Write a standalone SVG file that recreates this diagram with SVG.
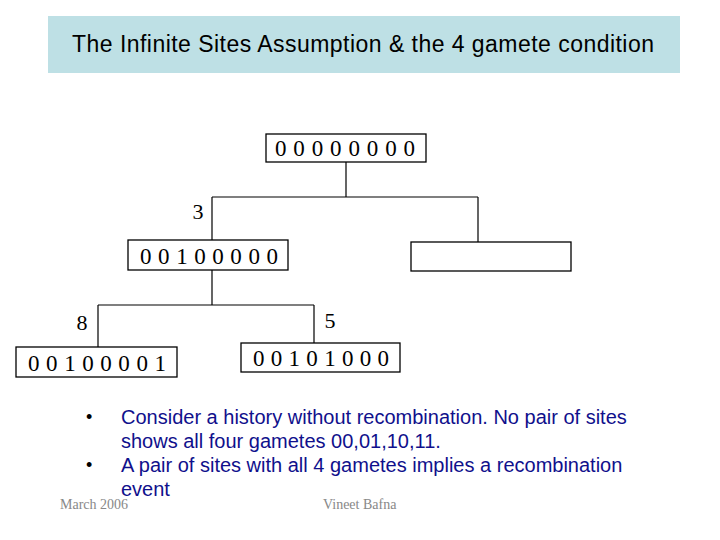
<svg xmlns="http://www.w3.org/2000/svg" width="720" height="540" viewBox="0 0 720 540">
<style>
.box{fill:#fff;stroke:#000;stroke-width:1.3}
.seq{font-family:"Liberation Serif",serif;font-size:23px;fill:#000}
.lbl{font-family:"Liberation Serif",serif;font-size:22px;fill:#000}
.conn{fill:none;stroke:#000;stroke-width:1.2}
.body{font-family:"Liberation Sans",Arial,sans-serif;font-size:20px;fill:#10108c}
.bul{font-family:"Liberation Sans",Arial,sans-serif;font-size:18px;fill:#000}
.foot{font-family:"Liberation Serif",serif;font-size:14px;fill:#888}
</style>
<rect width="720" height="540" fill="#fff"/>
<g id="title">
<rect x="48" y="16" width="632" height="57" fill="#bee0e5"/>
<text x="72" y="52" font-family="Liberation Sans,Arial,sans-serif" font-size="23" fill="#000" textLength="582" lengthAdjust="spacing">The Infinite Sites Assumption &amp; the 4 gamete condition</text>
</g>
<g id="connectors">
<path class="conn" d="M346 162V197M212 197H478M212 197V240M478 197V242"/>
<path class="conn" d="M212 270V305M98 305H314M98 305V347M314 305V343"/>
</g>
<g id="root">
<rect class="box" x="266" y="134" width="160" height="28"/>
<text class="seq" x="275" y="156" textLength="140" lengthAdjust="spacing">00000000</text>
</g>
<g id="n1">
<rect class="box" x="128" y="240" width="160" height="30"/>
<text class="seq" x="140" y="264" textLength="138" lengthAdjust="spacing">00100000</text>
</g>
<g id="n2">
<rect class="box" x="411" y="242" width="160" height="29"/>
</g>
<g id="n3">
<rect class="box" x="16" y="347" width="161" height="30"/>
<text class="seq" x="28" y="371" textLength="138" lengthAdjust="spacing">00100001</text>
</g>
<g id="n4">
<rect class="box" x="241" y="343" width="159" height="29"/>
<text class="seq" x="253" y="366" textLength="136" lengthAdjust="spacing">00101000</text>
</g>
<g id="labels">
<text class="lbl" x="198" y="219" text-anchor="middle">3</text>
<text class="lbl" x="82" y="330" text-anchor="middle">8</text>
<text class="lbl" x="330" y="328" text-anchor="middle">5</text>
</g>
<g id="bullets">
<text class="bul" x="86" y="423">•</text>
<text class="bul" x="86" y="471">•</text>
<text class="body" x="121" y="424">Consider a history without recombination. No pair of sites</text>
<text class="body" x="121" y="448">shows all four gametes 00,01,10,11.</text>
<text class="body" x="121" y="472">A pair of sites with all 4 gametes implies a recombination</text>
<text class="body" x="121" y="496">event</text>
</g>
<g id="footer">
<text class="foot" x="60" y="509">March 2006</text>
<text class="foot" x="323" y="509">Vineet Bafna</text>
</g>
</svg>
